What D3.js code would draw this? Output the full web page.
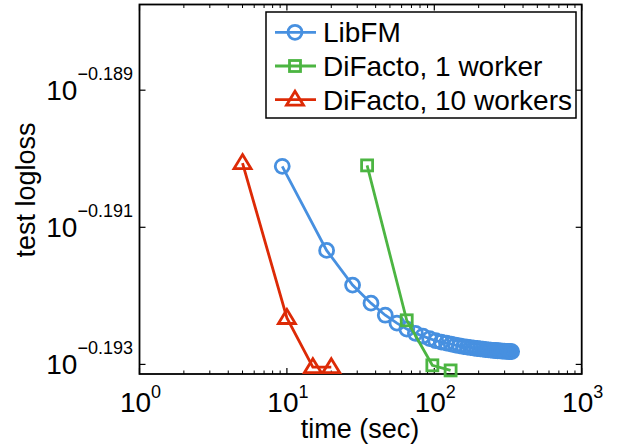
<!DOCTYPE html>
<html>
<head>
<meta charset="utf-8">
<script src="https://cdn.jsdelivr.net/npm/d3@7"></script>
<style>
  body { margin: 0; background: #fff; }
  text { font-family: "Liberation Sans", Arial, Helvetica, sans-serif; fill: #000; }
</style>
</head>
<body>
<svg id="chart" width="617" height="447"></svg>
<script>
// data
var seriesNames = ["LibFM", "DiFacto, 1 worker", "DiFacto, 10 workers"];
var seriesColors = ["#4790e0", "#4cb542", "#dd2a06"];

var libfmTime = [9.3, 18.6, 27.9, 37.2, 46.5, 55.8, 65.1, 74.4, 83.7, 93, 102.3, 111.6,
  120.9, 130.2, 139.5, 148.8, 158.1, 167.4, 176.7, 186, 195.3, 204.6, 213.9, 223.2,
  232.5, 241.8, 251.1, 260.4, 269.7, 279, 288.3, 297.6, 306.9, 316.2, 325.5, 334.8];
var libfmLoss = [0.64549, 0.64367, 0.64292, 0.64253, 0.64227, 0.64210, 0.64197, 0.64188,
  0.64182, 0.641765, 0.64172, 0.64169, 0.641668, 0.641647, 0.641625, 0.641608, 0.641593,
  0.641582, 0.641571, 0.64156, 0.641552, 0.641543, 0.641537, 0.64153, 0.641524, 0.641517,
  0.641513, 0.641509, 0.641504, 0.6415, 0.641496, 0.641494, 0.641491, 0.641489, 0.641487,
  0.641485];

var difacto1Time = [35, 65, 97, 129];
var difacto1Loss = [0.64551, 0.64216, 0.64119, 0.64108];

var difacto10Time = [5, 10, 15, 20];
var difacto10Loss = [0.64556, 0.64221, 0.64115, 0.64115];

var xTickExp = [0, 1, 2, 3];
var yTickExp = ["-0.189", "-0.191", "-0.193"];

var svg = d3.select("#chart");
var plotL = 139.5, plotR = 581.7, plotT = 4.5, plotB = 374;

var x = d3.scaleLog().domain([1, 1000]).range([plotL, plotR]);
var y = d3.scaleLog().domain([Math.pow(10, -0.19314), Math.pow(10, -0.18775)]).range([plotB, plotT]);

var g = svg.append("g");

// box
g.append("rect")
  .attr("x", plotL).attr("y", plotT)
  .attr("width", plotR - plotL).attr("height", plotB - plotT)
  .attr("fill", "none").attr("stroke", "#000").attr("stroke-width", 1.8);

// x ticks (major + minor), on bottom and top, pointing inward
var minor = [];
for (var e = 0; e < 3; e++) for (var m = 2; m <= 9; m++) minor.push(m * Math.pow(10, e));
minor.forEach(function(v) {
  g.append("line").attr("x1", x(v)).attr("x2", x(v)).attr("y1", plotB).attr("y2", plotB - 3.5)
    .attr("stroke", "#000").attr("stroke-width", 1);
  g.append("line").attr("x1", x(v)).attr("x2", x(v)).attr("y1", plotT).attr("y2", plotT + 3.5)
    .attr("stroke", "#000").attr("stroke-width", 1);
});
xTickExp.forEach(function(p) {
  var v = Math.pow(10, p);
  g.append("line").attr("x1", x(v)).attr("x2", x(v)).attr("y1", plotB).attr("y2", plotB - 6)
    .attr("stroke", "#000").attr("stroke-width", 1.2);
  g.append("line").attr("x1", x(v)).attr("x2", x(v)).attr("y1", plotT).attr("y2", plotT + 6)
    .attr("stroke", "#000").attr("stroke-width", 1.2);
  var t = g.append("text").attr("x", x(v) + 1).attr("y", 412).attr("text-anchor", "middle");
  t.append("tspan").attr("font-size", "28px").text("10");
  t.append("tspan").attr("font-size", "18px").attr("dy", -14).text(p);
});

// y ticks
yTickExp.forEach(function(p) {
  var v = Math.pow(10, +p);
  g.append("line").attr("x1", plotL).attr("x2", plotL + 6).attr("y1", y(v)).attr("y2", y(v))
    .attr("stroke", "#000").attr("stroke-width", 1.2);
  g.append("line").attr("x1", plotR).attr("x2", plotR - 6).attr("y1", y(v)).attr("y2", y(v))
    .attr("stroke", "#000").attr("stroke-width", 1.2);
  var t = g.append("text").attr("x", 133).attr("y", y(v) + 10).attr("text-anchor", "end");
  t.append("tspan").attr("font-size", "28px").text("10");
  t.append("tspan").attr("font-size", "18px").attr("dy", -20).text(p.replace("-", "\u2212"));
});

// axis labels
svg.append("text").attr("x", 360).attr("y", 438).attr("text-anchor", "middle")
  .attr("font-size", "27px").text("time (sec)");
svg.append("text").attr("transform", "translate(35,190) rotate(-90)").attr("text-anchor", "middle")
  .attr("font-size", "27px").text("test logloss");

// markers
function marker(sel, kind, color) {
  if (kind === 0) {
    sel.append("circle").attr("r", 7);
  } else if (kind === 1) {
    sel.append("rect").attr("x", -5.5).attr("y", -5.5).attr("width", 11).attr("height", 11);
  } else {
    sel.append("path").attr("d", "M0,-8.5L8.5,5.5L-8.5,5.5Z");
  }
  sel.selectAll("*").attr("fill", "none").attr("stroke", color).attr("stroke-width", 2.8);
}

var series = [
  {time: libfmTime, loss: libfmLoss},
  {time: difacto1Time, loss: difacto1Loss},
  {time: difacto10Time, loss: difacto10Loss}
];

var line = d3.line().x(function(d) { return x(d[0]); }).y(function(d) { return y(d[1]); });

series.forEach(function(s, i) {
  var pts = s.time.map(function(t, j) { return [t, s.loss[j]]; });
  var sg = g.append("g");
  sg.append("path").attr("d", line(pts)).attr("fill", "none")
    .attr("stroke", seriesColors[i]).attr("stroke-width", 2.8);
  pts.forEach(function(p) {
    var mg = sg.append("g").attr("transform", "translate(" + x(p[0]) + "," + y(p[1]) + ")");
    marker(mg, i, seriesColors[i]);
  });
});

// legend
var lg = svg.append("g");
lg.append("rect").attr("x", 266).attr("y", 12).attr("width", 310).attr("height", 106)
  .attr("fill", "#fff").attr("stroke", "#000").attr("stroke-width", 1.5);
seriesNames.forEach(function(name, i) {
  var cy = 32.3 + i * 33.7;
  lg.append("line").attr("x1", 275).attr("x2", 316).attr("y1", cy).attr("y2", cy)
    .attr("stroke", seriesColors[i]).attr("stroke-width", 2.8);
  marker(lg.append("g").attr("transform", "translate(295," + cy + ")"), i, seriesColors[i]);
  lg.append("text").attr("x", 323).attr("y", cy + 10).attr("font-size", "28px").text(name);
});
</script>
</body>
</html>
